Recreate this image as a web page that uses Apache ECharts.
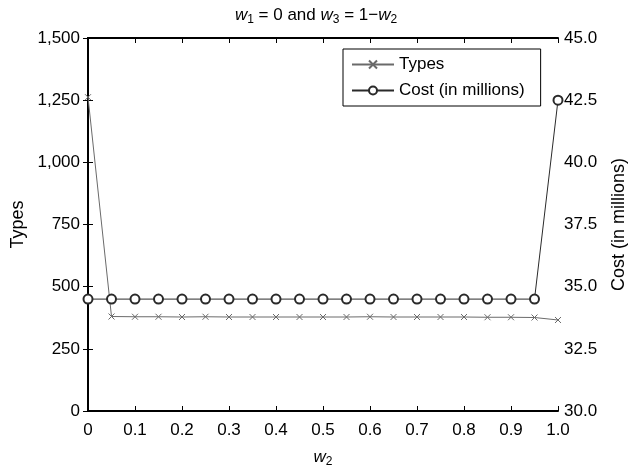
<!DOCTYPE html>
<html>
<head>
<meta charset="utf-8">
<script src="https://cdn.jsdelivr.net/npm/echarts@6/dist/echarts.min.js"></script>
<style>
  html, body { margin: 0; padding: 0; background: #fff; }
  #chart { width: 632px; height: 470px; }
</style>
</head>
<body>
<div id="chart"></div>
<script>
// values
var w2 = [0, 0.05, 0.1, 0.15, 0.2, 0.25, 0.3, 0.35, 0.4, 0.45, 0.5,
          0.55, 0.6, 0.65, 0.7, 0.75, 0.8, 0.85, 0.9, 0.95, 1.0];
var types = [1262, 380, 379, 379, 378, 379, 378, 378, 378, 378, 378,
             378, 379, 378, 378, 378, 378, 377, 377, 376, 366];
var cost = [34.5, 34.5, 34.5, 34.5, 34.5, 34.5, 34.5, 34.5, 34.5, 34.5, 34.5,
            34.5, 34.5, 34.5, 34.5, 34.5, 34.5, 34.5, 34.5, 34.5, 42.5];

var font = 'Liberation Sans';
var axisColor = '#000';

var chart = echarts.init(document.getElementById('chart'));

var sub = { fontSize: 12, fontFamily: font, fontWeight: 'normal', color: '#000', padding: [9, 0, 0, 0] };
var ital = { fontSize: 17, fontFamily: font, fontWeight: 'normal', fontStyle: 'italic', color: '#000' };
var norm = { fontSize: 17, fontFamily: font, fontWeight: 'normal', color: '#000' };

var tickLabel = { fontFamily: font, fontSize: 17, color: '#000' };

chart.setOption({
    animation: false,
    title: {
        text: '{i|w}{s|1}{n| = 0 and }{i|w}{s|3}{n| = 1\u2212}{i|w}{s|2}',
        left: 'center',
        top: 0,
        textStyle: { fontWeight: 'normal', rich: { i: ital, s: sub, n: norm } }
    },
    legend: {
        orient: 'vertical',
        left: 343,
        top: 49,
        padding: [7, 16, 7, 8],
        itemGap: 9,
        itemWidth: 42,
        itemHeight: 10,
        borderColor: '#000',
        borderWidth: 1,
        textStyle: { fontFamily: font, fontSize: 17, color: '#000' },
        data: ['Types', 'Cost (in millions)']
    },
    grid: { left: 88, right: 74, top: 38, bottom: 59, outerBoundsMode: 'none' },
    xAxis: [{
        type: 'value',
        min: 0, max: 1, interval: 0.1,
        name: '{i|w}{s|2}',
        nameLocation: 'middle',
        nameGap: 36,
        nameTextStyle: { rich: { i: ital, s: sub } },
        axisLine: { lineStyle: { color: axisColor, width: 2 } },
        axisTick: { inside: true, length: 5, lineStyle: { color: axisColor } },
        splitLine: { show: false },
        axisLabel: Object.assign({ margin: 11,
            formatter: function (v) { return v === 0 ? '0' : v.toFixed(1); } }, tickLabel)
    }, {
        type: 'value',
        position: 'top',
        min: 0, max: 1, interval: 0.1,
        axisLine: { show: true, lineStyle: { color: axisColor, width: 2 } },
        axisTick: { show: true, inside: true, length: 5, lineStyle: { color: axisColor } },
        axisLabel: { show: false },
        splitLine: { show: false }
    }],
    yAxis: [{
        type: 'value',
        min: 0, max: 1500, interval: 250,
        name: 'Types',
        nameLocation: 'middle',
        nameGap: 60,
        nameRotate: 90,
        nameTextStyle: { fontFamily: font, fontSize: 18, color: '#000' },
        axisLine: { show: true, lineStyle: { color: axisColor, width: 2 } },
        axisTick: { show: true, inside: true, length: 5, lineStyle: { color: axisColor } },
        splitLine: { show: false },
        axisLabel: Object.assign({ margin: 8,
            formatter: function (v) { return v.toLocaleString('en-US'); } }, tickLabel)
    }, {
        type: 'value',
        position: 'right',
        min: 30, max: 45, interval: 2.5,
        name: 'Cost (in millions)',
        nameLocation: 'middle',
        nameGap: 52,
        nameRotate: 90,
        nameTextStyle: { fontFamily: font, fontSize: 18, color: '#000' },
        axisLine: { show: true, lineStyle: { color: axisColor, width: 2 } },
        axisTick: { show: true, inside: true, length: 5, lineStyle: { color: axisColor } },
        splitLine: { show: false },
        axisLabel: Object.assign({ margin: 6,
            formatter: function (v) { return v.toFixed(1); } }, tickLabel)
    }],
    series: [{
        name: 'Types',
        type: 'line',
        yAxisIndex: 0,
        data: w2.map(function (x, i) { return [x, types[i]]; }),
        symbol: 'path://M0,0L10,10M10,0L0,10',
        symbolSize: 6,
        lineStyle: { color: '#6a6a6a', width: 1 },
        itemStyle: { color: '#6a6a6a', borderColor: '#6a6a6a', borderWidth: 1 }
    }, {
        name: 'Cost (in millions)',
        type: 'line',
        yAxisIndex: 1,
        data: w2.map(function (x, i) { return [x, cost[i]]; }),
        symbol: 'emptyCircle',
        symbolSize: 9,
        lineStyle: { color: '#2a2a2a', width: 1 },
        itemStyle: { color: '#2a2a2a', borderColor: '#2a2a2a', borderWidth: 1 }
    }]
});
</script>
</body>
</html>
